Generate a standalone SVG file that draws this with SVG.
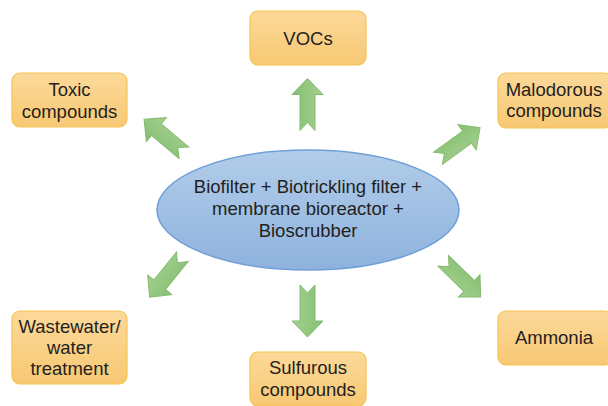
<svg xmlns="http://www.w3.org/2000/svg" width="608" height="406" viewBox="0 0 608 406">
<defs>
<linearGradient id="boxGrad" x1="0" y1="0" x2="0" y2="1">
<stop offset="0" stop-color="#fcd99a"/>
<stop offset="1" stop-color="#f8c873"/>
</linearGradient>
<linearGradient id="ellGrad" x1="0" y1="0" x2="0" y2="1">
<stop offset="0" stop-color="#b2cdea"/>
<stop offset="1" stop-color="#8eb2dd"/>
</linearGradient>
<linearGradient id="arrGrad" x1="0" y1="0" x2="1" y2="0">
<stop offset="0" stop-color="#86bf72"/>
<stop offset="1" stop-color="#a3d08f"/>
</linearGradient>
<path id="arrow" d="M0,-26 L15.5,-10 L7.5,-10 L7.5,26 L0,18 L-7.5,26 L-7.5,-10 L-15.5,-10 Z"/>
</defs>
<style>
.box { fill: url(#boxGrad); stroke: #f6c453; stroke-width: 1.2; }
.lbl { font-family: "Liberation Sans", Arial, sans-serif; font-size: 18.5px; fill: #231f20; text-anchor: middle; }
.arr { fill: url(#arrGrad); stroke: #84bb70; stroke-width: 1; stroke-linejoin: miter; }
</style>
<rect width="608" height="406" fill="#ffffff"/>

<g id="connectors">
<use href="#arrow" class="arr" transform="translate(307.5,104.5)"/>
<use href="#arrow" class="arr" transform="translate(307.5,311) rotate(180)"/>
<use href="#arrow" class="arr" transform="translate(164,136) rotate(-50)"/>
<use href="#arrow" class="arr" transform="translate(459,143) rotate(54)"/>
<use href="#arrow" class="arr" transform="translate(166,277) rotate(-141)"/>
<use href="#arrow" class="arr" transform="translate(462,279) rotate(134)"/>
</g>

<g id="center">
<ellipse cx="308" cy="210" rx="151" ry="60" fill="url(#ellGrad)" stroke="#6f9fd8" stroke-width="1.5"/>
<text class="lbl" x="308" y="193">Biofilter + Biotrickling filter +</text>
<text class="lbl" x="308" y="215">membrane bioreactor +</text>
<text class="lbl" x="308" y="237">Bioscrubber</text>
</g>

<g id="vocs">
<rect class="box" x="250" y="11" width="116" height="54" rx="8"/>
<text class="lbl" x="308" y="45">VOCs</text>
</g>

<g id="toxic">
<rect class="box" x="12" y="73" width="115" height="54" rx="8"/>
<text class="lbl" x="69.5" y="96">Toxic</text>
<text class="lbl" x="69.5" y="118">compounds</text>
</g>

<g id="malodorous">
<rect class="box" x="498" y="73" width="114" height="55" rx="8"/>
<text class="lbl" x="554" y="96">Malodorous</text>
<text class="lbl" x="554" y="117">compounds</text>
</g>

<g id="wastewater">
<rect class="box" x="12" y="311" width="115" height="73" rx="8"/>
<text class="lbl" x="69.5" y="333">Wastewater/</text>
<text class="lbl" x="69.5" y="354">water</text>
<text class="lbl" x="69.5" y="375">treatment</text>
</g>

<g id="sulfurous">
<rect class="box" x="250" y="352" width="116" height="54" rx="8"/>
<text class="lbl" x="308" y="374">Sulfurous</text>
<text class="lbl" x="308" y="396">compounds</text>
</g>

<g id="ammonia">
<rect class="box" x="498" y="311" width="114" height="54" rx="8"/>
<text class="lbl" x="554" y="344">Ammonia</text>
</g>
</svg>
